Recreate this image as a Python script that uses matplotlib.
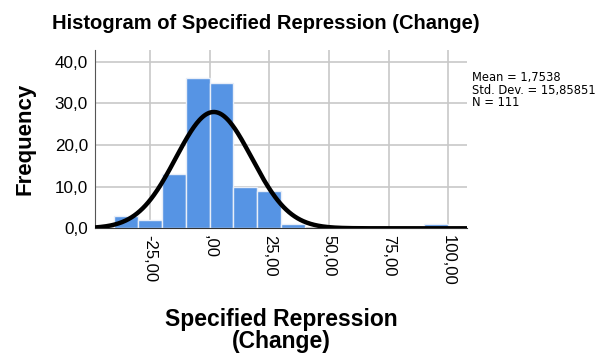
import numpy as np
import matplotlib.pyplot as plt

# Histogram counts (bin width 10)
bin_edges = [-40, -30, -20, -10, 0, 10, 20, 30, 40, 50, 60, 70, 80, 90, 100]
counts = [3, 2, 13, 36, 35, 10, 9, 1, 0, 0, 0, 0, 0, 1]

mean = 1.7538
std_dev = 15.85851
n = 111

x_ticks = [-25, 0, 25, 50, 75, 100]
x_tick_labels = ['-25,00', ',00', '25,00', '50,00', '75,00', '100,00']
y_ticks = [0, 10, 20, 30, 40]
y_tick_labels = ['0,0', '10,0', '20,0', '30,0', '40,0']

plt.rcParams['font.family'] = ['Liberation Sans', 'DejaVu Sans']

fig = plt.figure(figsize=(6.11, 3.56), dpi=100)
ax = fig.add_axes([0.1555, 0.3587, 0.6083, 0.5008])

left = np.array(bin_edges[:-1])
widths = np.diff(bin_edges)
ax.bar(left, counts, width=widths, align='edge', color='#5694e4',
       edgecolor='#e8eef8', linewidth=1.0, zorder=2)

# Normal curve scaled to the histogram
xs = np.linspace(-48, 108, 400)
bw = 10
ys = n * bw / (std_dev * np.sqrt(2 * np.pi)) * np.exp(-0.5 * ((xs - mean) / std_dev) ** 2)
ax.plot(xs, ys, color='black', linewidth=3.2, zorder=3, solid_capstyle='butt')

ax.set_xlim(-48, 107.7)
ax.set_ylim(0, 42.8)
ax.set_xticks(x_ticks)
ax.set_xticklabels(x_tick_labels, rotation=-90, fontsize=12)
ax.set_yticks(y_ticks)
ax.set_yticklabels(y_tick_labels, fontsize=12.3)
ax.tick_params(length=0, pad=5)
ax.grid(True, color='#c8c8c8', linewidth=1.2, zorder=0)
ax.set_axisbelow(True)

for side in ['top', 'right']:
    ax.spines[side].set_visible(False)
ax.spines['left'].set_color('#555555')
ax.spines['bottom'].set_color('#333333')

ax.set_xlabel('Specified Repression\n(Change)', fontsize=16.5, fontweight='bold',
              labelpad=16, linespacing=0.95)
ax.set_ylabel('Frequency', fontsize=16, fontweight='bold', labelpad=14)

fig.text(0.435, 0.935, 'Histogram of Specified Repression (Change)',
         fontsize=14.5, fontweight='bold', ha='center', va='center')

fig.text(0.772, 0.80,
         'Mean = 1,7538\nStd. Dev. = 15,85851\nN = 111',
         fontsize=8.3, family='DejaVu Sans', ha='left', va='top', linespacing=0.95)

fig.savefig('out.png', dpi=100)
